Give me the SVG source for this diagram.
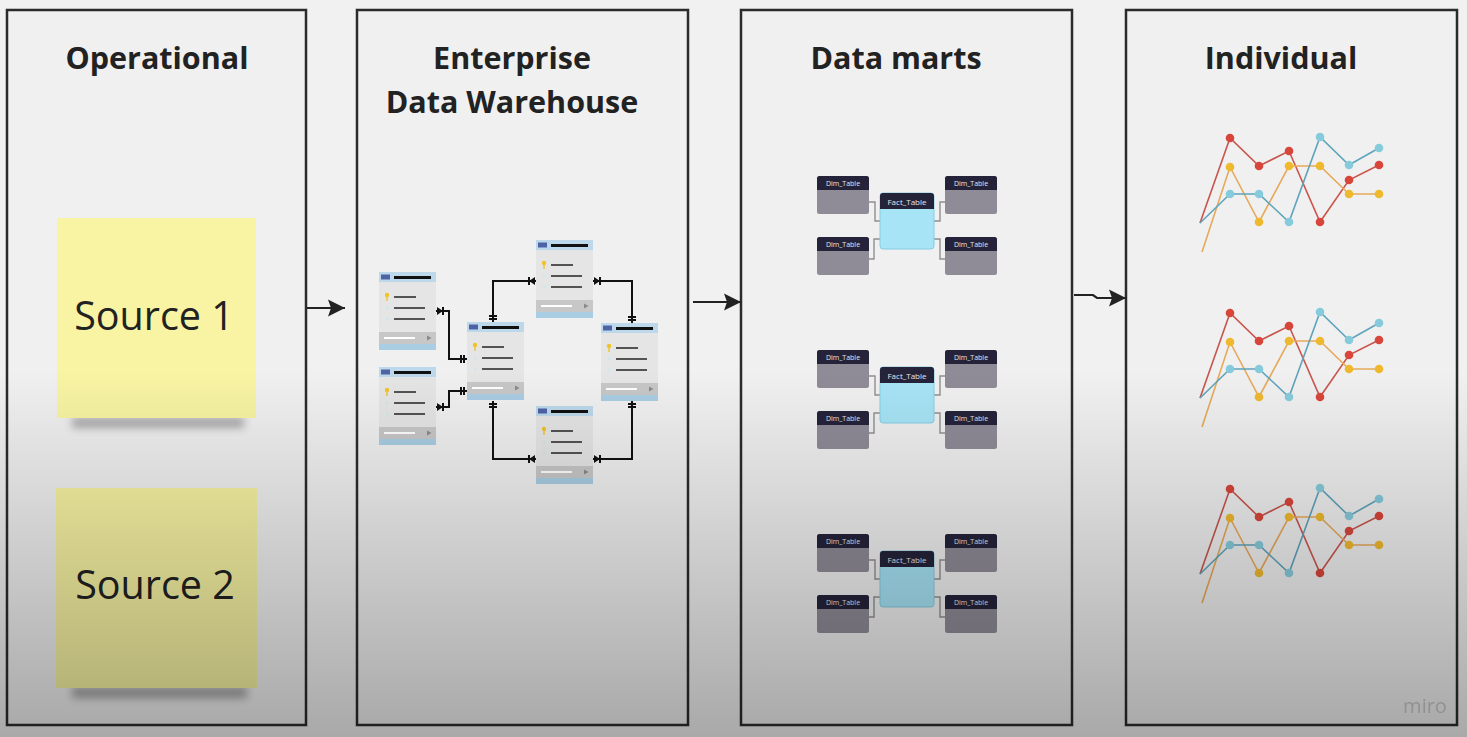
<svg xmlns="http://www.w3.org/2000/svg" xmlns:xlink="http://www.w3.org/1999/xlink" width="1467" height="737" viewBox="0 0 1467 737">
<defs>
<style>
.panel{fill:#f0f0f0;stroke:#2b2b2b;stroke-width:2.5}
.title{font-family:"Open Sans","Liberation Sans",sans-serif;font-weight:700;font-size:30.5px;fill:#222;text-anchor:middle}
.note-text{font-family:"Open Sans","Liberation Sans",sans-serif;font-size:39.5px;fill:#222;text-anchor:middle}
.flow{fill:none;stroke:#222;stroke-width:2.2}
.erd{fill:none;stroke:#111;stroke-width:2}
.star{fill:none;stroke:#8f8f8f;stroke-width:1.4}
.dimh{fill:#25233a}
.dimb{fill:#8f8b97}
.lbl{font-family:"Open Sans","Liberation Sans",sans-serif;font-size:7px;fill:#e6e6ee;text-anchor:middle}
.lblf{font-family:"Open Sans","Liberation Sans",sans-serif;font-size:8px;fill:#e6e6ee;text-anchor:middle}
.lr{fill:none;stroke:#c9564d;stroke-width:1.6}
.ly{fill:none;stroke:#e7a95a;stroke-width:1.6}
.lb{fill:none;stroke:#5ea4bc;stroke-width:1.6}
.dr{fill:#d8463b}
.dy{fill:#efb92f}
.db{fill:#86cbdc}
.tl{stroke:#222;stroke-width:1.5}
</style>
<marker id="arrow" viewBox="-17 -9 17 18" refX="0" refY="0" markerWidth="17" markerHeight="18" markerUnits="userSpaceOnUse" orient="auto">
<path d="M0,0 L-17,-8.5 L-14,0 L-17,8.5 Z" fill="#222"/>
</marker>
<marker id="crow" viewBox="-10 -5 10 10" refX="0" refY="0" markerWidth="10" markerHeight="10" markerUnits="userSpaceOnUse" orient="auto-start-reverse">
<path d="M-7,-4 L-7,4" stroke="#111" stroke-width="2"/>
<path d="M-7,0 L-1,-4 L-1,4 Z" fill="#111"/>
</marker>
<marker id="one" viewBox="-10 -5 10 10" refX="0" refY="0" markerWidth="10" markerHeight="10" markerUnits="userSpaceOnUse" orient="auto">
<path d="M-3,-4 L-3,4 M-6,-4 L-6,4" stroke="#111" stroke-width="2"/>
</marker>
<filter id="blur" x="-20%" y="-100%" width="140%" height="300%">
<feGaussianBlur stdDeviation="4"/>
</filter>
<linearGradient id="shade" gradientUnits="userSpaceOnUse" x1="0" y1="370" x2="0" y2="737">
<stop offset="0" stop-color="#000" stop-opacity="0"/>
<stop offset="1" stop-color="#000" stop-opacity="0.3"/>
</linearGradient>
<g id="tbl">
<rect x="0" y="0" width="57" height="78" fill="#e5e5e5"/>
<rect x="0" y="0" width="57" height="10" fill="#bcd8ea"/>
<rect x="2" y="2.5" width="9" height="5" fill="#4e62a6"/>
<rect x="15" y="4" width="37" height="3" fill="#111"/>
<circle cx="8" cy="23" r="2.2" fill="#f0c328"/>
<rect x="7.3" y="24" width="1.4" height="5" fill="#f0c328"/>
<circle cx="8" cy="36" r="1.3" fill="#cfe5ef"/>
<circle cx="8" cy="47" r="1.3" fill="#cfe5ef"/>
<line class="tl" x1="15" y1="25" x2="37" y2="25"/>
<line class="tl" x1="15" y1="36" x2="46" y2="36"/>
<line class="tl" x1="15" y1="47" x2="46" y2="47"/>
<rect x="0" y="60" width="57" height="12" fill="#c7c7c7"/>
<line x1="5" y1="66" x2="36" y2="66" stroke="#fff" stroke-width="2"/>
<path d="M48,63.5 L52.5,66 L48,68.5 Z" fill="#8a8a8a"/>
<rect x="0" y="72" width="57" height="6" fill="#a9cde3"/>
</g>
<g id="dim">
<rect x="0" y="0" width="52" height="38" rx="2.5" class="dimb"/>
<rect x="0" y="0" width="52" height="14" rx="2.5" class="dimh"/>
<rect x="0" y="8" width="52" height="6" class="dimh"/>
<text x="26" y="10" class="lbl">Dim_Table</text>
</g>
<g id="star">
<path class="star" d="M869,202 H875 V221 H880 M869,259 H874 V239 H880 M934,221 H940 V202 H945 M934,239 H940 V259 H945"/>
<use xlink:href="#dim" x="817" y="176"/>
<use xlink:href="#dim" x="945" y="176"/>
<use xlink:href="#dim" x="817" y="237"/>
<use xlink:href="#dim" x="945" y="237"/>
<rect x="880" y="193" width="54" height="56" rx="3" fill="#a7e4f6" stroke="#86cde3" stroke-width="1"/>
<rect x="880" y="193" width="54" height="16" rx="3" class="dimh"/>
<rect x="880" y="203" width="54" height="6" class="dimh"/>
<text x="907" y="205" class="lblf">Fact_Table</text>
</g>
<g id="chart">
<polyline class="lr" points="1200,223 1230,138 1259,166 1289,151 1320,222 1349,180 1379,165"/>
<polyline class="ly" points="1202,252 1230,167 1259,222 1289,166 1320,166 1349,194 1379,194"/>
<polyline class="lb" points="1200,223 1230,194 1259,194 1289,222 1320,137 1349,165 1379,148"/>
<g class="dr"><circle cx="1230" cy="138" r="4.3"/><circle cx="1259" cy="166" r="4.3"/><circle cx="1289" cy="151" r="4.3"/><circle cx="1320" cy="222" r="4.3"/><circle cx="1349" cy="180" r="4.3"/><circle cx="1379" cy="165" r="4.3"/></g>
<g class="dy"><circle cx="1230" cy="167" r="4.3"/><circle cx="1259" cy="222" r="4.3"/><circle cx="1289" cy="166" r="4.3"/><circle cx="1320" cy="166" r="4.3"/><circle cx="1349" cy="194" r="4.3"/><circle cx="1379" cy="194" r="4.3"/></g>
<g class="db"><circle cx="1230" cy="194" r="4.3"/><circle cx="1259" cy="194" r="4.3"/><circle cx="1289" cy="222" r="4.3"/><circle cx="1320" cy="137" r="4.3"/><circle cx="1349" cy="165" r="4.3"/><circle cx="1379" cy="148" r="4.3"/></g>
</g>
</defs>

<rect x="0" y="0" width="1467" height="737" fill="#f1f1f1"/>

<g id="panel-operational">
<rect class="panel" x="7" y="10" width="299" height="715"/>
<text class="title" x="157" y="69">Operational</text>
</g>
<g id="panel-edw">
<rect class="panel" x="357" y="10" width="331" height="715"/>
<text class="title" x="512" y="69">Enterprise</text>
<text class="title" x="512" y="113">Data Warehouse</text>
</g>
<g id="panel-datamarts">
<rect class="panel" x="741" y="10" width="331" height="715"/>
<text class="title" x="896" y="69">Data marts</text>
</g>
<g id="panel-individual">
<rect class="panel" x="1126" y="10" width="331" height="715"/>
<text class="title" x="1281" y="69">Individual</text>
</g>

<g id="source-1">
<rect x="72" y="417" width="172" height="11" fill="#555" opacity="0.45" filter="url(#blur)"/>
<rect x="57" y="218" width="199" height="200" fill="#f8f4a3"/>
<text class="note-text" x="154" y="330">Source 1</text>
</g>
<g id="source-2">
<rect x="72" y="687" width="175" height="11" fill="#444" opacity="0.45" filter="url(#blur)"/>
<rect x="56" y="488" width="201" height="200" fill="#f7f3a3"/>
<text class="note-text" x="155" y="599">Source 2</text>
</g>

<g id="edw-tables">
<use xlink:href="#tbl" x="379" y="272"/>
<use xlink:href="#tbl" x="379" y="367"/>
<use xlink:href="#tbl" x="467" y="322"/>
<use xlink:href="#tbl" x="536" y="240"/>
<use xlink:href="#tbl" x="601" y="323"/>
<use xlink:href="#tbl" x="536" y="406"/>
</g>

<g id="data-marts">
<use xlink:href="#star"/>
<use xlink:href="#star" y="174"/>
<use xlink:href="#star" y="358"/>
</g>

<g id="individual-charts">
<use xlink:href="#chart"/>
<use xlink:href="#chart" y="175"/>
<use xlink:href="#chart" y="351"/>
</g>

<g id="connectors">
<path class="flow" d="M307,308 H345" marker-end="url(#arrow)"/>
<path class="flow" d="M693,302 H741" marker-end="url(#arrow)"/>
<path class="flow" d="M1074,295 H1093 L1097,298 H1126" marker-end="url(#arrow)"/>
<path class="erd" d="M436,311 H449 V359 H467" marker-start="url(#crow)" marker-end="url(#one)"/>
<path class="erd" d="M436,407 H449 V391 H467" marker-start="url(#crow)" marker-end="url(#one)"/>
<path class="erd" d="M536,281 H493 V322" marker-start="url(#crow)" marker-end="url(#one)"/>
<path class="erd" d="M593,281 H632 V323" marker-start="url(#crow)" marker-end="url(#one)"/>
<path class="erd" d="M536,459 H493 V401" marker-start="url(#crow)" marker-end="url(#one)"/>
<path class="erd" d="M593,459 H632 V401" marker-start="url(#crow)" marker-end="url(#one)"/>
</g>

<rect x="0" y="0" width="1467" height="737" fill="url(#shade)" pointer-events="none"/>
<text x="1425" y="713" font-family="Open Sans, Liberation Sans, sans-serif" font-size="20" fill="#8a8a8a" text-anchor="middle" opacity="0.8">miro</text>
</svg>
